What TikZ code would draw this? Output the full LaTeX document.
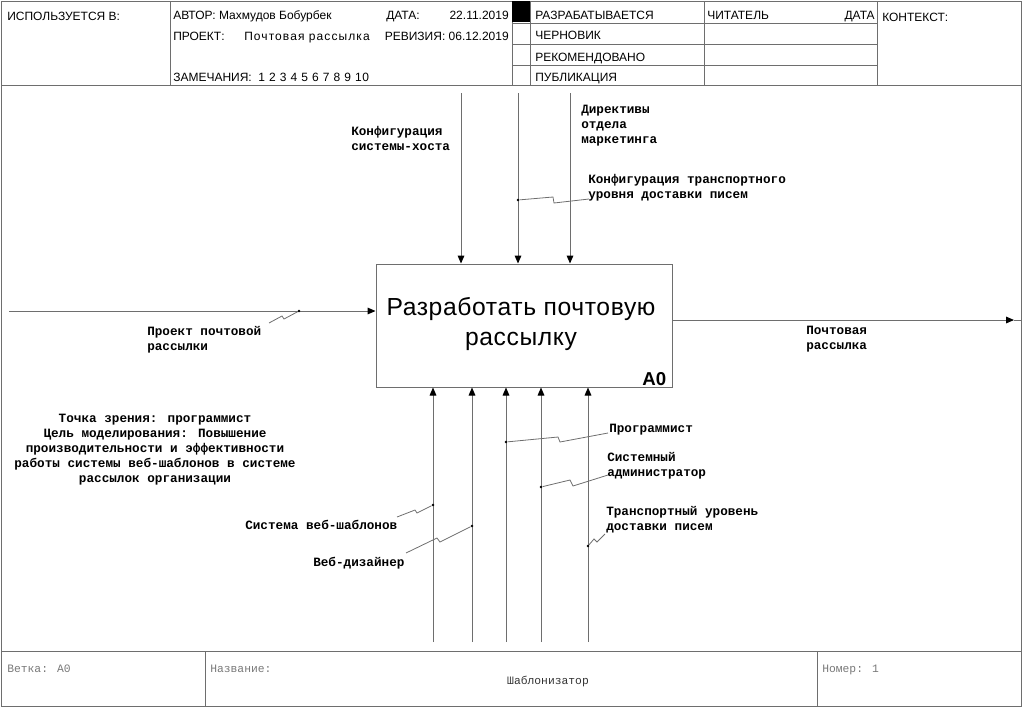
\documentclass[tikz,border=0pt]{standalone}
\usepackage{fontspec}
\setmainfont{Liberation Sans}
\newfontfamily\lmono{Liberation Mono}
\usetikzlibrary{arrows.meta}
\definecolor{ln}{RGB}{110,110,110}
\definecolor{ft}{RGB}{120,120,120}
\begin{document}
\begin{tikzpicture}[x=0.75pt,y=-0.75pt,
  frameline/.style={draw=ln, line width=0.75pt},
  arr/.style={draw=ln, line width=0.75pt, -{Triangle[length=6pt,width=5pt,color=black]}},
  squig/.style={draw=ln, line width=0.6pt},
  dotm/.style={fill=black, circle, inner sep=0pt, minimum size=2.2pt},
  hdr/.style={font=\fontsize{9}{11}\selectfont, inner sep=0pt, anchor=base west},
  lbl/.style={font=\lmono\bfseries\fontsize{9.5}{11.25}\selectfont, inner sep=0pt, anchor=north west, align=left, execute at begin node=\strut},
  foot/.style={font=\lmono\fontsize{8.5}{10}\selectfont, text=ft, inner sep=0pt, anchor=base west},
  funcbox/.style={draw=ln, line width=0.75pt, minimum width=222pt, minimum height=92.25pt, inner sep=0pt}
]
\useasboundingbox (0,0) rectangle (1023,707);
% outer frame
\draw[frameline] (1,1) rectangle (1021,706);
% header
\draw[frameline] (1,85) -- (1021,85);
\draw[frameline] (170,1) -- (170,85);
\draw[frameline] (512,1) -- (512,85);
\draw[frameline] (530,1) -- (530,85);
\draw[frameline] (704,1) -- (704,85);
\draw[frameline] (877,1) -- (877,85);
\draw[frameline] (512,23) -- (877,23);
\draw[frameline] (512,44) -- (877,44);
\draw[frameline] (512,65) -- (877,65);
\fill[black] (512,1) rectangle (530,22);
\node[hdr] (usedin) at (7,20) {ИСПОЛЬЗУЕТСЯ В:};
\node[hdr] (author) at (173,19.5) {АВТОР: Махмудов Бобурбек};
\node[hdr] (datel) at (386,19.5) {ДАТА:};
\node[hdr, anchor=base east] (datev) at (509,19.5) {22.11.2019};
\node[hdr] (projl) at (173,40.5) {ПРОЕКТ:};
\node[hdr] (projv) at (244,40.5) {\addfontfeatures{LetterSpace=9}Почтовая рассылка};
\node[hdr, anchor=base east] (rev) at (509,40.5) {РЕВИЗИЯ: 06.12.2019};
\node[hdr] (notes) at (173,81.5) {ЗАМЕЧАНИЯ:\ \ {\addfontfeatures{LetterSpace=6}1 2 3 4 5 6 7 8 9 10}};
\node[hdr] (st1) at (535,19.5) {РАЗРАБАТЫВАЕТСЯ};
\node[hdr] (st2) at (535,39.5) {ЧЕРНОВИК};
\node[hdr] (st3) at (535,61) {РЕКОМЕНДОВАНО};
\node[hdr] (st4) at (535,81.5) {ПУБЛИКАЦИЯ};
\node[hdr] (reader) at (707,19.5) {ЧИТАТЕЛЬ};
\node[hdr, anchor=base east] (rdate) at (875,19.5) {ДАТА};
\node[hdr] (context) at (882,21) {КОНТЕКСТ:};
% footer
\draw[frameline] (1,651) -- (1021,651);
\draw[frameline] (205,651) -- (205,706);
\draw[frameline] (817,651) -- (817,706);
\node[foot] (node) at (7,672.5) {Ветка: A0};
\node[foot] (title) at (210,672.5) {Название:};
\node[foot, anchor=base, text=black!80] (titlev) at (548,684.5) {Шаблонизатор};
\node[foot] (num) at (822,672.5) {Номер: 1};
% function box
\node[funcbox] (A0) at (524,325.5) {};
\node[font=\addfontfeatures{LetterSpace=2.5}\fontsize{18.5}{22.5}\selectfont, align=center, inner sep=0pt] (A0text) at (521,324) {Разработать почтовую\\рассылку};
\node[font=\bfseries\fontsize{14}{16}\selectfont, anchor=south east, inner sep=0pt] (A0num) at ([xshift=-4.5pt,yshift=1.5pt]A0.south east) {A0};
% controls
\coordinate (c1) at (461,93);
\coordinate (c2) at (518,93);
\coordinate (c3) at (570,93);
\draw[arr] (c1) -- (c1 |- A0.north);
\draw[arr] (c2) -- (c2 |- A0.north);
\draw[arr] (c3) -- (c3 |- A0.north);
% input
\coordinate (i1) at (9,311);
\draw[arr] (i1) -- (i1 -| A0.west);
% output
\coordinate (o1) at (1014,320);
\coordinate (o1e) at (1021,320);
\draw[arr] (o1 -| A0.east) -- (o1);
\draw[frameline] (o1) -- (o1e);
% mechanisms
\coordinate (m1) at (433,642);
\coordinate (m2) at (472,642);
\coordinate (m3) at (506,642);
\coordinate (m4) at (541,642);
\coordinate (m5) at (588,642);
\draw[arr] (m1) -- (m1 |- A0.south);
\draw[arr] (m2) -- (m2 |- A0.south);
\draw[arr] (m3) -- (m3 |- A0.south);
\draw[arr] (m4) -- (m4 |- A0.south);
\draw[arr] (m5) -- (m5 |- A0.south);
% labels
\node[lbl] (lc1) at (351,126.5) {Конфигурация\\системы-хоста};
\node[lbl] (lc3) at (581,104.5) {Директивы\\отдела\\маркетинга};
\node[lbl] (lc2) at (588,174.5) {Конфигурация транспортного\\уровня доставки писем};
\node[lbl] (li1) at (147,326.5) {Проект почтовой\\рассылки};
\node[lbl] (lo1) at (806,325.5) {Почтовая\\рассылка};
\node[lbl] (lm3) at (609,422) {Программист};
\node[lbl] (lm4) at (607,452.5) {Системный\\администратор};
\node[lbl] (lm5) at (606,506.5) {Транспортный уровень\\доставки писем};
\node[lbl] (lm1) at (245,519) {Система веб-шаблонов};
\node[lbl] (lm2) at (313,556) {Веб-дизайнер};
\node[lbl, anchor=north, align=center] (vp) at (155,413.5) {Точка зрения: программист\\Цель моделирования: Повышение\\производительности и эффективности\\работы системы веб-шаблонов в системе\\рассылок организации};
% squiggles with dots
\node[dotm] (d2) at (518,200) {};
\draw[squig] (d2) -- (553,197) -- (554,203) -- (589,199);
\node[dotm] (di) at (299,311) {};
\draw[squig] (di) -- (284,319) -- (282,316) -- (269,323);
\node[dotm] (d3) at (506,442) {};
\draw[squig] (d3) -- (558,437) -- (560,442) -- (608,433);
\node[dotm] (d4) at (541,487) {};
\draw[squig] (d4) -- (570,480) -- (573,486) -- (608,475);
\node[dotm] (d5) at (588,546) {};
\draw[squig] (d5) -- (594,539) -- (597,542) -- (605,534);
\node[dotm] (d1) at (433,505) {};
\draw[squig] (d1) -- (417,513) -- (415,510) -- (397,517);
\node[dotm] (dm2) at (472,526) {};
\draw[squig] (dm2) -- (440,542) -- (437,538) -- (406,553);
\end{tikzpicture}
\end{document}
